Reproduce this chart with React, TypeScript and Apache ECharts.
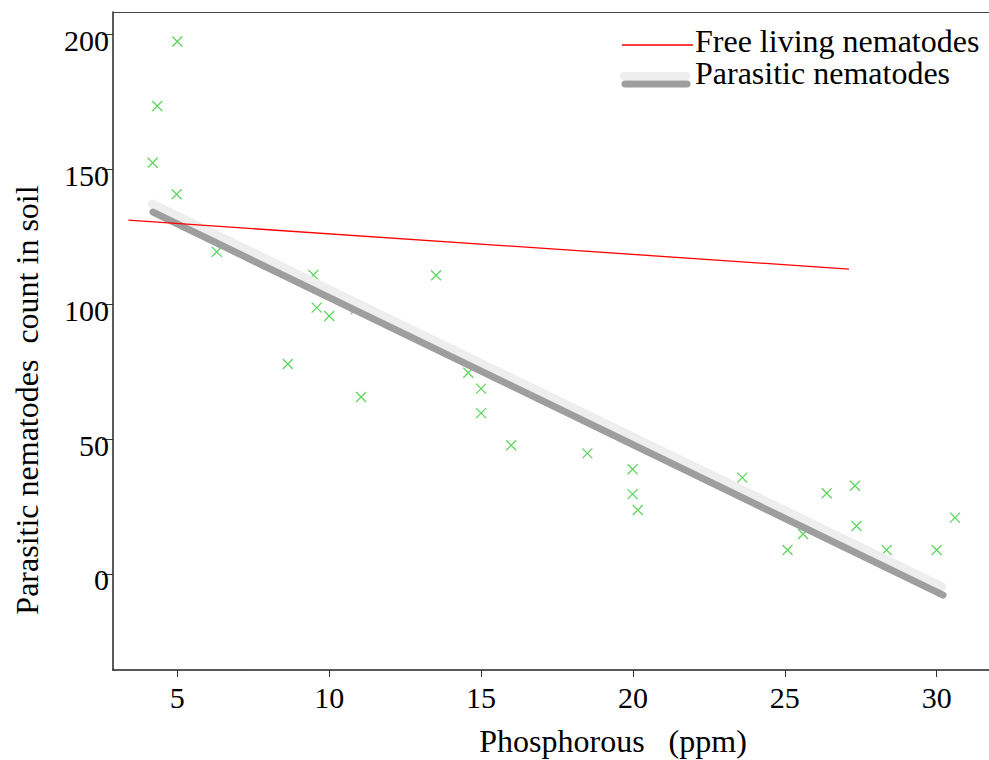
import React, { useEffect, useRef } from 'react';
import * as echarts from 'echarts';

// Tick values
const xTickValues = [5, 10, 15, 20, 25, 30];
const yTickValues = [0, 50, 100, 150, 200];

// Observed parasitic nematode counts vs phosphorous (ppm)
const phosphorous = [5.0, 4.34, 4.19, 4.98, 6.3, 8.64, 9.48, 9.59, 10.0, 10.88, 11.05, 13.52, 14.58, 15.0, 15.0, 15.99, 18.5, 19.99, 19.99, 20.16, 23.6, 25.09, 25.6, 26.38, 27.31, 27.36, 28.35, 30.0, 30.6];
const parasiticCount = [197.3, 173.4, 152.4, 140.7, 119.4, 77.8, 110.8, 98.7, 95.6, 98.2, 65.6, 110.7, 74.6, 68.7, 59.6, 47.7, 44.7, 38.8, 29.6, 23.7, 35.7, 8.9, 14.8, 29.9, 32.7, 17.8, 8.9, 8.9, 20.9];

// Fitted lines (end points)
const freeLivingFitX = [3.39, 27.11];
const freeLivingFitY = [131.1, 113.0];
const parasiticFitX = [4.2, 30.21];
const parasiticFitY = [134.1, -7.8];
const parasiticShadowX = [4.18, 30.16];
const parasiticShadowY = [137.1, -4.7];

const legendLabels = ['Free living nematodes', 'Parasitic nematodes'];
const xTitle = 'Phosphorous   (ppm)';
const yTitle = 'Parasitic nematodes  count in soil';

const FONT = "'Liberation Serif', 'Times New Roman', serif";

const zip = (xs: number[], ys: number[]) => xs.map((x, i) => [x, ys[i]]);

export default function App() {
  const ref = useRef<HTMLDivElement>(null);
  useEffect(() => {
    const chart = echarts.init(ref.current!, null, { renderer: 'svg' });
    chart.setOption({
      animation: false,
      backgroundColor: '#ffffff',
      grid: { left: 113, right: 0, top: 12, bottom: 90, containLabel: false },
      xAxis: [
        {
          type: 'value',
          position: 'bottom',
          min: 2.8835,
          max: 31.7215,
          splitLine: { show: false },
          axisLine: { show: true, onZero: false, lineStyle: { color: '#222', width: 1.5 } },
          axisTick: { show: true, length: 7, customValues: xTickValues, lineStyle: { color: '#333', width: 1 } },
          axisLabel: {
            customValues: xTickValues,
            color: '#000',
            fontFamily: FONT,
            fontSize: 30,
            margin: 27,
            verticalAlign: 'middle',
          },
        },
        {
          type: 'value',
          position: 'top',
          min: 2.8835,
          max: 31.7215,
          splitLine: { show: false },
          axisLine: { show: true, onZero: false, lineStyle: { color: '#444', width: 1.2 } },
          axisTick: { show: false },
          axisLabel: { show: false },
        },
      ],
      yAxis: {
        type: 'value',
        min: -35.58,
        max: 208.26,
        splitLine: { show: false },
        axisLine: { show: true, onZero: false, lineStyle: { color: '#222', width: 1.5 } },
        axisTick: { show: true, length: 11, customValues: yTickValues, lineStyle: { color: '#333', width: 1 } },
        axisLabel: {
          customValues: yTickValues,
          color: '#000',
          fontFamily: FONT,
          fontSize: 30,
          margin: 4,
          verticalAlign: 'top',
          lineHeight: 12,
        },
      },
      series: [
        {
          type: 'scatter',
          data: zip(phosphorous, parasiticCount),
          symbol: 'path://M0,0L10,10M10,0L0,10',
          symbolSize: 10,
          itemStyle: { color: 'rgba(0,0,0,0)', borderColor: '#36cc36', borderWidth: 1.3 },
          z: 2,
        },
        {
          type: 'line',
          data: zip(parasiticShadowX, parasiticShadowY),
          showSymbol: false,
          symbol: 'none',
          lineStyle: { color: '#eeeeee', width: 9, cap: 'round' },
          z: 3,
        },
        {
          type: 'line',
          data: zip(parasiticFitX, parasiticFitY),
          showSymbol: false,
          symbol: 'none',
          lineStyle: { color: '#9e9e9e', width: 7, cap: 'round' },
          z: 4,
        },
        {
          type: 'line',
          data: zip(freeLivingFitX, freeLivingFitY),
          showSymbol: false,
          symbol: 'none',
          lineStyle: { color: '#ff0000', width: 1.3 },
          z: 5,
        },
      ],
      graphic: [
        { type: 'line', shape: { x1: 622, y1: 45, x2: 693, y2: 45 }, style: { stroke: '#ff0000', lineWidth: 1.3 }, z: 10 },
        { type: 'text', x: 695, y: 41, style: { text: legendLabels[0], fontFamily: FONT, fontSize: 32, lineHeight: 30, fill: '#000', align: 'left', verticalAlign: 'middle' }, z: 10 },
        { type: 'line', shape: { x1: 624, y1: 76, x2: 686, y2: 76 }, style: { stroke: '#eeeeee', lineWidth: 8, lineCap: 'round' }, z: 10 },
        { type: 'line', shape: { x1: 625, y1: 84, x2: 687, y2: 84 }, style: { stroke: '#9e9e9e', lineWidth: 7, lineCap: 'round' }, z: 10 },
        { type: 'text', x: 695, y: 73, style: { text: legendLabels[1], fontFamily: FONT, fontSize: 32, lineHeight: 30, fill: '#000', align: 'left', verticalAlign: 'middle' }, z: 10 },
        { type: 'text', x: 613, y: 741, style: { text: xTitle, fontFamily: FONT, fontSize: 32, fill: '#000', align: 'center', verticalAlign: 'middle' }, z: 10 },
        { type: 'text', x: 27, y: 400, rotation: Math.PI / 2, style: { text: yTitle, fontFamily: FONT, fontSize: 32, fill: '#000', align: 'center', verticalAlign: 'middle' }, z: 10 },
      ],
    });
    return () => chart.dispose();
  }, []);
  return <div ref={ref} style={{ position: 'fixed', left: 0, top: 0, width: 989, height: 760, background: '#fff' }} />;
}
